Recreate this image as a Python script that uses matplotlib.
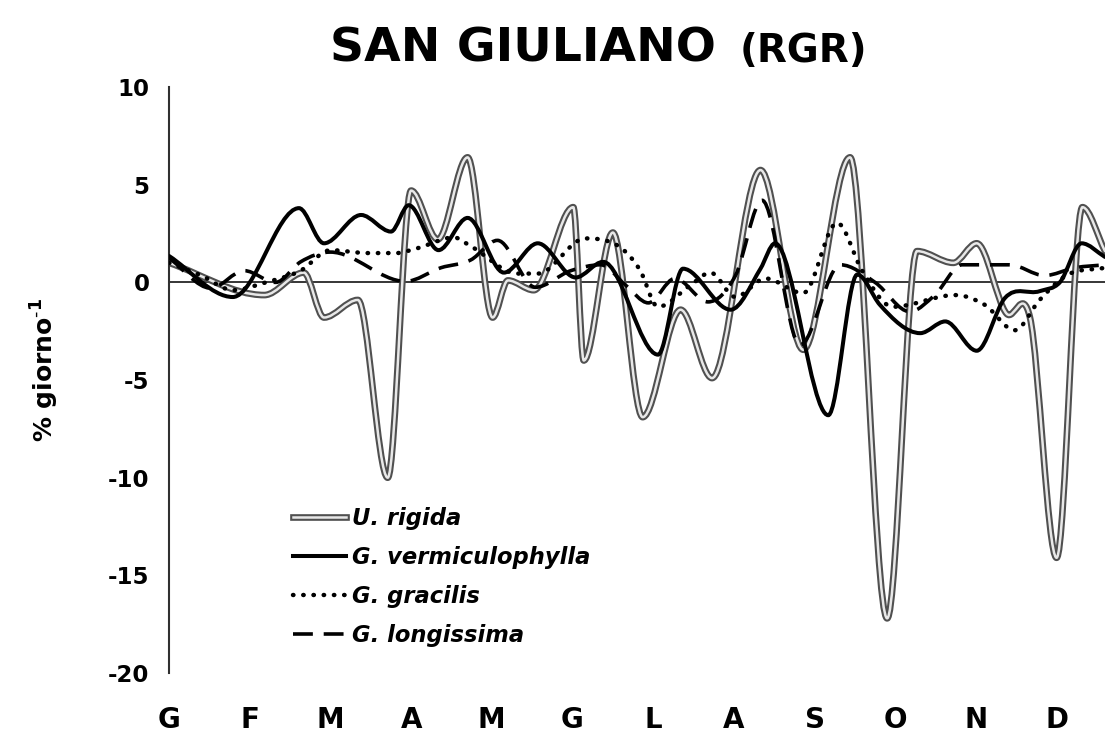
import numpy as np
import matplotlib
matplotlib.use("Agg")
import matplotlib.pyplot as plt
from matplotlib.path import Path
from matplotlib.patches import PathPatch
from matplotlib.lines import Line2D
from matplotlib.legend_handler import HandlerTuple

# RGR (% giorno-1), x in months from start of January
mesi = ["G", "F", "M", "A", "M", "G", "L", "A", "S", "O", "N", "D"]

rigida_x = [0.0, 1.18, 1.67, 1.92, 2.34, 2.71, 3.00, 3.33, 3.70, 4.01, 4.20, 4.52,
            5.01, 5.14, 5.50, 5.87, 6.34, 6.73, 7.33, 7.86, 8.44, 8.90, 9.27, 9.72,
            10.01, 10.38, 10.67, 11.00, 11.32, 11.60]
rigida_y = [1.0, -0.65, 0.5, -1.8, -0.9, -10.0, 4.7, 2.2, 6.4, -1.8, 0.1, -0.4,
            3.85, -4.0, 2.55, -6.9, -1.4, -4.9, 5.75, -3.45, 6.4, -17.2, 1.6, 1.0,
            2.0, -1.6, -1.8, -14.1, 3.85, 1.6]

verm_x = [0.0, 0.79, 1.61, 1.92, 2.38, 2.75, 2.97, 3.34, 3.70, 4.15, 4.57, 5.04,
          5.38, 6.06, 6.37, 6.96, 7.33, 7.51, 8.17, 8.53, 8.81, 9.31, 9.62, 10.01,
          10.36, 10.79, 11.04, 11.31, 11.60]
verm_y = [1.35, -0.75, 3.8, 2.0, 3.45, 2.6, 3.95, 1.65, 3.3, 0.5, 2.0, 0.25,
          1.05, -3.7, 0.7, -1.4, 0.7, 2.0, -6.8, 0.4, -1.15, -2.6, -2.0, -3.5,
          -0.8, -0.45, 0.0, 2.0, 1.3]

grac_x = [0.0, 0.40, 0.79, 1.20, 1.63, 2.00, 2.46, 2.81, 3.08, 3.53, 3.74, 4.32,
          4.57, 5.16, 5.84, 6.06, 6.46, 6.71, 7.02, 7.39, 7.86, 8.28, 8.59, 8.97,
          9.74, 10.11, 10.48, 10.79, 11.10, 11.60]
grac_y = [1.0, 0.35, -0.4, 0.0, 0.6, 1.65, 1.5, 1.5, 1.75, 2.3, 1.85, 0.45,
          0.45, 2.25, 0.6, -1.25, -0.15, 0.5, -0.75, 0.2, -0.55, 3.05, 0.6, -1.25,
          -0.65, -1.15, -2.45, -0.9, 0.3, 0.75]

long_x = [0.0, 0.52, 0.93, 1.32, 1.63, 2.00, 2.93, 3.37, 3.74, 4.07, 4.54, 4.98,
          5.35, 5.66, 5.94, 6.27, 6.68, 7.02, 7.35, 7.82, 8.32, 8.75, 9.18, 9.49,
          9.83, 10.42, 10.85, 11.23, 11.60]
long_y = [1.25, -0.3, 0.6, 0.0, 1.05, 1.55, 0.05, 0.75, 1.15, 2.15, -0.25, 0.6,
          0.9, -0.15, -1.05, 0.2, -1.0, 0.35, 4.2, -3.2, 0.9, 0.0, -1.5, -0.65,
          0.9, 0.9, 0.35, 0.75, 0.9]

etichette = ["U. rigida", "G. vermiculophylla", "G. gracilis", "G. longissima"]


def curva(xs, ys):
    # smooth line through the points: cubic bezier segments, flat at peaks/troughs
    x = np.asarray(xs, float)
    y = np.asarray(ys, float)
    h = np.diff(x)
    d = np.diff(y) / h
    m = np.zeros(len(x))
    m[0], m[-1] = d[0], d[-1]
    for i in range(1, len(x) - 1):
        if d[i - 1] * d[i] > 0:
            m[i] = (d[i - 1] * h[i] + d[i] * h[i - 1]) / (h[i] + h[i - 1])
    verts = [(x[0], y[0])]
    codes = [Path.MOVETO]
    for i in range(len(x) - 1):
        verts += [(x[i] + h[i] / 3, y[i] + m[i] * h[i] / 3),
                  (x[i + 1] - h[i] / 3, y[i + 1] - m[i + 1] * h[i] / 3),
                  (x[i + 1], y[i + 1])]
        codes += [Path.CURVE4] * 3
    return Path(verts, codes)


plt.rcParams['font.family'] = 'DejaVu Sans'
plt.rcParams['axes.unicode_minus'] = False
fig = plt.figure(figsize=(11.05, 7.37), dpi=100)
ax = fig.add_axes([0.153, 0.0868, 0.847, 0.7951])

# U. rigida: double line (dark edges, light core)
ax.add_patch(PathPatch(curva(rigida_x, rigida_y), fill=False, lw=4.8,
                       edgecolor='#505050', capstyle='round', joinstyle='round', zorder=2))
ax.add_patch(PathPatch(curva(rigida_x, rigida_y), fill=False, lw=1.8,
                       edgecolor='#e8e8e8', capstyle='round', joinstyle='round', zorder=2.1))
ax.add_patch(PathPatch(curva(verm_x, verm_y), fill=False, lw=2.9,
                       edgecolor='black', capstyle='round', zorder=3))
ax.add_patch(PathPatch(curva(grac_x, grac_y), fill=False, lw=3.2,
                       edgecolor='black', linestyle=(0, (0.1, 2.2)),
                       capstyle='round', zorder=4))
ax.add_patch(PathPatch(curva(long_x, long_y), fill=False, lw=2.6,
                       edgecolor='black', linestyle=(0, (5.5, 3.0)),
                       capstyle='butt', zorder=5))

ax.axhline(0, color='black', lw=1.1, zorder=1)

ax.set_xlim(0, 11.6)
ax.set_ylim(-20, 10)
ax.set_yticks([-20, -15, -10, -5, 0, 5, 10])
ax.set_xticks(range(12))
ax.set_xticklabels(mesi, fontsize=20, fontweight='bold')
ax.tick_params(axis='x', length=0, pad=24)
ax.tick_params(axis='y', length=0, pad=14, labelsize=16.5)
for t in ax.get_yticklabels():
    t.set_fontweight('bold')
for s in ['top', 'right', 'bottom']:
    ax.spines[s].set_visible(False)
ax.spines['left'].set_linewidth(1.5)
ax.spines['left'].set_color('#303030')

fig.text(45 / 1105, 1 - 370 / 737, r'% giorno$^{\mathbf{\text{-}1}}$', rotation=90,
         ha='center', va='center', fontsize=18, fontweight='bold')

fig.text(330 / 1105, 1 - 62 / 737, "SAN GIULIANO", fontsize=34,
         fontweight='bold', va='baseline', ha='left')
fig.text(740 / 1105, 1 - 62 / 737, "(RGR)", fontsize=28,
         fontweight='bold', va='baseline', ha='left')

# legend
h_rig = (Line2D([], [], color='#505050', lw=4.8), Line2D([], [], color='#e8e8e8', lw=1.8))
h_ver = Line2D([], [], color='black', lw=2.9)
h_gra = Line2D([], [], color='black', lw=3.2, linestyle=(0, (0.1, 2.2)),
               dash_capstyle='round')
h_lon = Line2D([], [], color='black', lw=2.6, linestyle=(0, (5.5, 3.0)))
leg = ax.legend([h_rig, h_ver, h_gra, h_lon], etichette,
                handler_map={tuple: HandlerTuple(ndivide=1, pad=0)},
                loc='upper left', bbox_to_anchor=(293 / 1105, 1 - 507 / 737),
                bbox_transform=fig.transFigure, frameon=False, borderpad=0,
                borderaxespad=0, handlelength=2.35, handletextpad=0.25,
                labelspacing=0.71, prop={'size': 16.3, 'weight': 'bold', 'style': 'italic'})

fig.savefig("out.png", dpi=100)
